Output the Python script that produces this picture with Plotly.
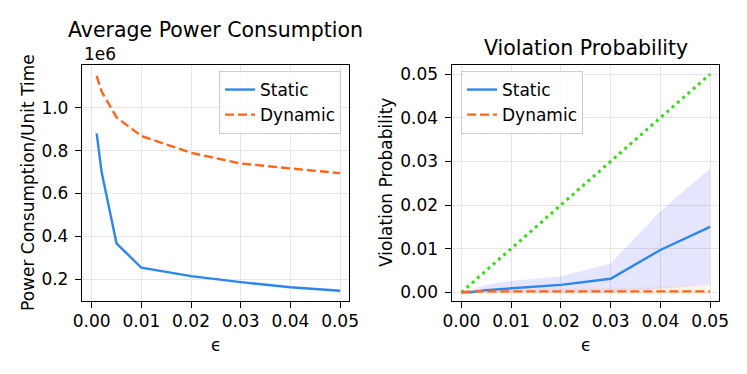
import plotly.graph_objects as go
from plotly.subplots import make_subplots

# data
eps = [0.001, 0.002, 0.005, 0.01, 0.02, 0.03, 0.04, 0.05]
power_static = [880000, 700000, 368000, 254000, 215000, 187000, 163000, 147000]
power_dynamic = [1148000, 1075000, 955000, 868000, 790000, 740000, 717000, 695000]

eps_v = [0.0, 0.002, 0.005, 0.01, 0.02, 0.03, 0.04, 0.05]
viol_static = [0.0, 0.0, 0.0005, 0.0009, 0.0017, 0.0031, 0.0097, 0.0150]
viol_static_hi = [0.0, 0.0005, 0.0017, 0.0026, 0.0037, 0.0066, 0.0186, 0.0284]
viol_static_lo = [0.0, 0.0, 0.0, 0.0, 0.0, 0.0, 0.0008, 0.0017]
viol_dynamic = [0.0, 0.0002, 0.0002, 0.0002, 0.0002, 0.0002, 0.0002, 0.0002]
viol_dynamic_hi = [0.0, 0.0005, 0.0008, 0.0008, 0.0009, 0.0010, 0.0012, 0.0016]
viol_dynamic_lo = [0.0, -0.0002, -0.0004, -0.0004, -0.0004, -0.0004, -0.0004, -0.0004]
bound = eps_v

x_ticks = [0.0, 0.01, 0.02, 0.03, 0.04, 0.05]
x_ticktext = ["0.00", "0.01", "0.02", "0.03", "0.04", "0.05"]
power_ticks = [200000, 400000, 600000, 800000, 1000000]
power_ticktext = ["0.2", "0.4", "0.6", "0.8", "1.0"]
viol_ticks = [0.0, 0.01, 0.02, 0.03, 0.04, 0.05]
viol_ticktext = ["0.00", "0.01", "0.02", "0.03", "0.04", "0.05"]

BLUE = "#2b87ef"
ORANGE = "#ff6619"
GREEN = "#33dd11"
FONT = "DejaVu Sans"
FS = 17

W, H = 747, 374
OFF = 8  # default body margin of the html page


def px_x(p):
    return (p - OFF) / W


def px_y(p):
    return 1 - (p - OFF) / H


fig = make_subplots(rows=1, cols=2)

fig.add_trace(go.Scatter(x=eps, y=power_static, mode="lines", name="Static",
                         line=dict(color=BLUE, width=2.4), legend="legend"), row=1, col=1)
fig.add_trace(go.Scatter(x=eps, y=power_dynamic, mode="lines", name="Dynamic",
                         line=dict(color=ORANGE, width=2.4, dash="9px,4px"), legend="legend"),
              row=1, col=1)

# shaded bands
fig.add_trace(go.Scatter(x=eps_v, y=viol_static_lo, mode="lines", line=dict(width=0),
                         showlegend=False, hoverinfo="skip"), row=1, col=2)
fig.add_trace(go.Scatter(x=eps_v, y=viol_static_hi, mode="lines", line=dict(width=0),
                         fill="tonexty", fillcolor="rgba(0,0,255,0.1)",
                         showlegend=False, hoverinfo="skip"), row=1, col=2)
fig.add_trace(go.Scatter(x=eps_v, y=viol_dynamic_lo, mode="lines", line=dict(width=0),
                         showlegend=False, hoverinfo="skip"), row=1, col=2)
fig.add_trace(go.Scatter(x=eps_v, y=viol_dynamic_hi, mode="lines", line=dict(width=0),
                         fill="tonexty", fillcolor="rgba(255,140,0,0.1)",
                         showlegend=False, hoverinfo="skip"), row=1, col=2)

fig.add_trace(go.Scatter(x=eps_v, y=bound, mode="lines", showlegend=False,
                         line=dict(color=GREEN, width=3, dash="3px,4px")), row=1, col=2)
fig.add_trace(go.Scatter(x=eps_v, y=viol_static, mode="lines", name="Static",
                         line=dict(color=BLUE, width=2.4), legend="legend2"), row=1, col=2)
fig.add_trace(go.Scatter(x=eps_v, y=viol_dynamic, mode="lines", name="Dynamic",
                         line=dict(color=ORANGE, width=2.4, dash="9px,4px"), legend="legend2"),
              row=1, col=2)

axis_common = dict(
    showline=True, mirror=True, linecolor="black", linewidth=1.3,
    ticks="outside", ticklen=6, tickwidth=1.2, tickcolor="black",
    showgrid=True, gridcolor="#e6e6e6", gridwidth=1, zeroline=False,
    tickfont=dict(size=FS, color="black", family=FONT),
    automargin=False,
)

xr = [-0.00195, 0.0518]
fig.update_xaxes(**axis_common, range=xr, tickvals=x_ticks, ticktext=x_ticktext,
                 ticklabelstandoff=-2)
fig.update_xaxes(domain=[px_x(82), px_x(349)], row=1, col=1)
fig.update_xaxes(domain=[px_x(451.7), px_x(719)], row=1, col=2)

fig.update_yaxes(**axis_common, ticklabelstandoff=3)
fig.update_yaxes(domain=[px_y(301), px_y(65)])
fig.update_yaxes(range=[99000, 1199000], tickvals=power_ticks, ticktext=power_ticktext,
                 row=1, col=1)
fig.update_yaxes(range=[-0.002, 0.0521], tickvals=viol_ticks, ticktext=viol_ticktext,
                 row=1, col=2)

legend_style = dict(
    font=dict(size=FS, color="black", family=FONT),
    bgcolor="rgba(255,255,255,0.8)", bordercolor="#cccccc", borderwidth=1,
    yanchor="top", y=px_y(71), tracegroupgap=0, traceorder="normal",
)


def label(text, x, y, size=FS, angle=0, xanchor="center"):
    return dict(text=text, x=px_x(x), y=px_y(y), xref="paper", yref="paper",
                showarrow=False, font=dict(size=size, color="black", family=FONT),
                textangle=angle, xanchor=xanchor, yanchor="middle")


fig.update_layout(
    width=W, height=H,
    margin=dict(l=0, r=0, t=0, b=0),
    paper_bgcolor="white", plot_bgcolor="white",
    font=dict(family=FONT, size=FS, color="black"),
    legend=dict(**legend_style, xanchor="right", x=px_x(341)),
    legend2=dict(**legend_style, xanchor="left", x=px_x(461)),
    annotations=[
        label("Average Power Consumption", 215.5, 30, size=20.5),
        label("Violation Probability", 585.5, 48, size=20.5),
        label("1e6", 82, 54, xanchor="left"),
        label("ϵ", 215.5, 345),
        label("ϵ", 585.5, 345),
        label("Power Consumption/Unit Time", 28, 183, angle=-90),
        label("Violation Probability", 386, 183, angle=-90),
    ],
)

fig.write_html("out.html")
